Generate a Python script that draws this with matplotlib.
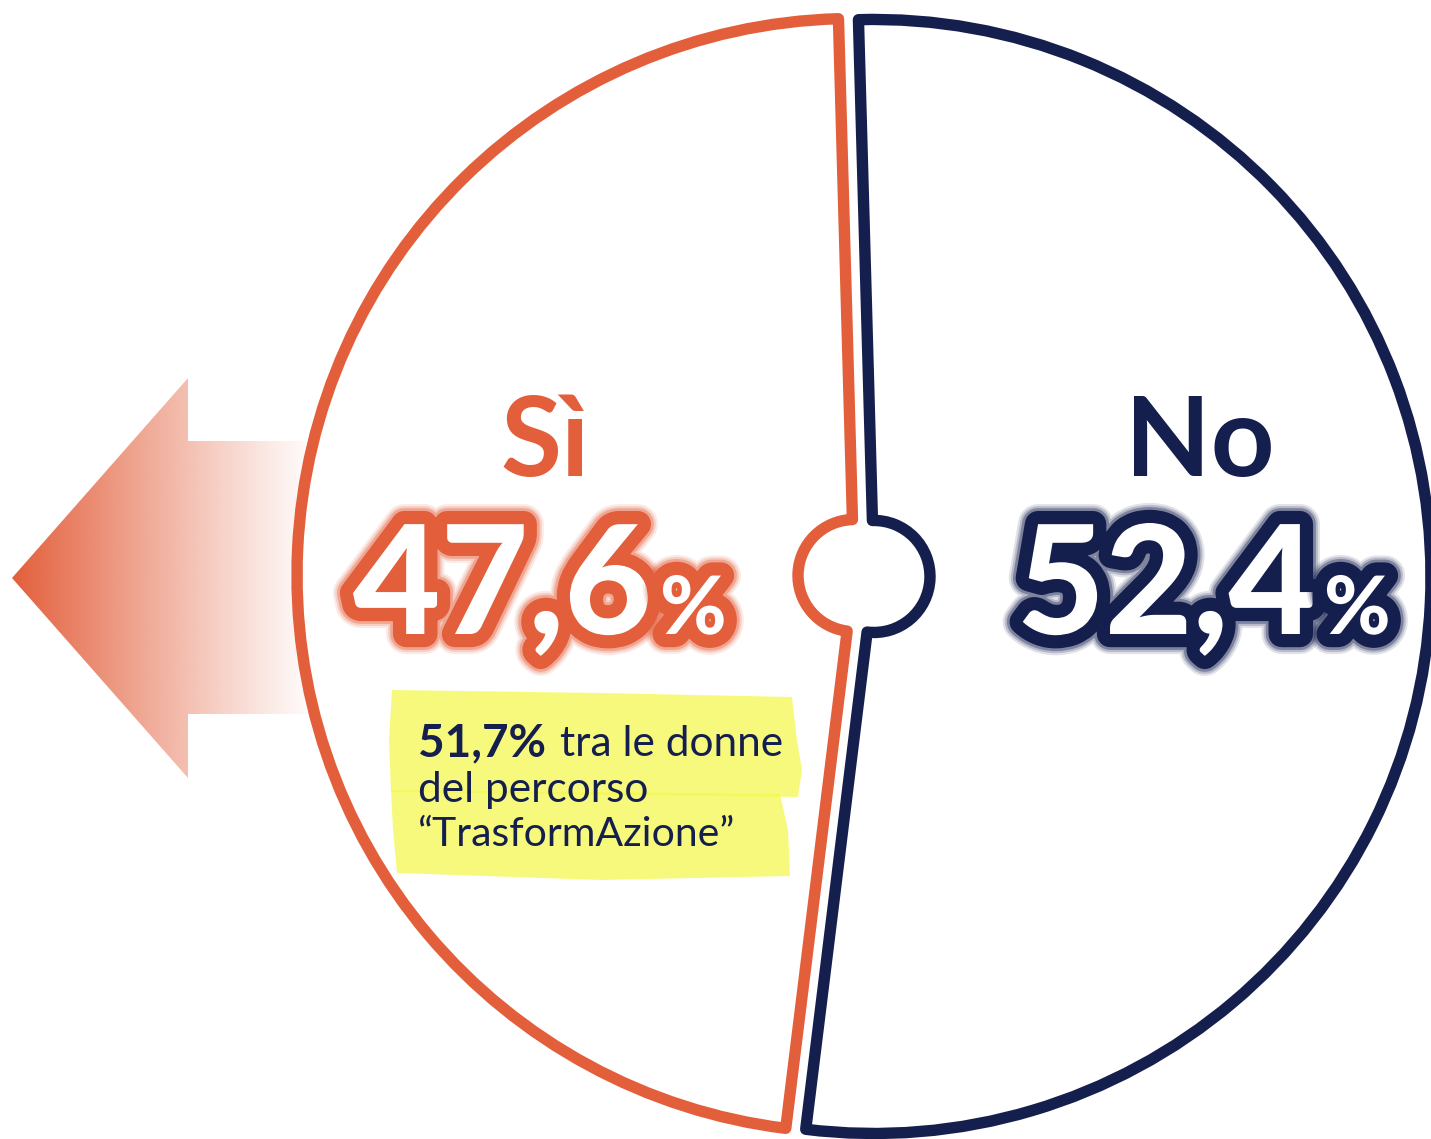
import matplotlib
matplotlib.use("Agg")
import matplotlib.pyplot as plt
import matplotlib.patheffects as pe
import numpy as np
from matplotlib.colors import to_rgb
from matplotlib.patches import Polygon

# data
labels = ["No", "Sì"]
values = [52.4, 47.6]
subgroup_value = 51.7
subgroup_text = ["tra le donne", "del percorso", "\u201cTrasformAzione\u201d"]

ORANGE = "#E35E3A"
NAVY = "#151F4E"
YELLOW = "#F5F850"

W, H = 1431, 1139
plt.rcParams["font.family"] = ["Lato", "DejaVu Sans"]

fig = plt.figure(figsize=(W / 100, H / 100), dpi=100)
ax = fig.add_axes([0, 0, 1, 1])
fig.patch.set_facecolor("white")


def up(y):
    """image row (from top) -> axis y (from bottom)"""
    return H - y


# gradient arrow pointing left, partly hidden behind the Sì slice
arrow = Polygon(
    [(12, up(578)), (188, up(378)), (188, up(441)), (310, up(441)),
     (310, up(714)), (188, up(714)), (188, up(778))],
    closed=True, facecolor="none", edgecolor="none",
)
ax.add_patch(arrow)
grad = np.zeros((2, 300, 4))
grad[..., :3] = to_rgb(ORANGE)
grad[..., 3] = np.linspace(1.0, 0.03, 300) ** 1.1
img = ax.imshow(grad, extent=(12, 310, up(778), up(378)), aspect="auto",
                interpolation="bilinear", zorder=0.5)
img.set_clip_path(arrow)

# the pie itself
cx, cy, radius = 864, up(576), 557
wedges, _ = ax.pie(
    values,
    startangle=91.6,
    counterclock=False,
    center=(cx, cy),
    radius=radius,
    explode=[10, 10],
    colors=["white", "white"],
    wedgeprops=dict(width=radius - 56, linewidth=8.2, joinstyle="round"),
)
wedges[0].set_edgecolor(NAVY)
wedges[1].set_edgecolor(ORANGE)
for w in wedges:
    w.set_zorder(2)

ax.set_xlim(0, W)
ax.set_ylim(0, H)
ax.set_aspect("equal")
ax.axis("off")


def fmt(v):
    return f"{v:.1f}".replace(".", ",")


def glow(color):
    # soft halo imitation: a few wide translucent strokes under a solid one
    return [pe.Stroke(linewidth=29, foreground=color, alpha=0.12),
            pe.Stroke(linewidth=26, foreground=color, alpha=0.2),
            pe.Stroke(linewidth=23, foreground=color, alpha=0.35),
            pe.Stroke(linewidth=19, foreground=color),
            pe.Normal()]


# slice labels
slice_style = {
    "No": dict(label_x=1200, num_right=1316, color=NAVY),
    "Sì": dict(label_x=545, num_right=652, color=ORANGE),
}
for name, val in zip(labels, values):
    st = slice_style[name]
    ax.text(st["label_x"], up(476), name, ha="center", va="baseline",
            fontsize=80, fontweight="bold", color=st["color"], zorder=5)
    ax.text(st["num_right"], up(634), fmt(val), ha="right", va="baseline",
            fontsize=109, fontweight="black", color="white",
            path_effects=glow(st["color"]), zorder=5)
    ax.text(st["num_right"] + 8, up(634), "%", ha="left", va="baseline",
            fontsize=58, fontweight="black", color="white",
            path_effects=glow(st["color"]), zorder=5)

# highlighter strokes behind the note (slightly ragged edges)
top_band = [(392, up(690)), (600, up(693)), (792, up(697)), (797, up(740)),
            (802, up(770)), (798, up(797)), (600, up(795)), (391, up(792)),
            (389, up(740))]
low_band = [(391, up(790)), (600, up(792)), (780, up(794)), (788, up(830)),
            (790, up(876)), (600, up(880)), (397, up(873)), (393, up(830))]
for band in (top_band, low_band):
    ax.add_patch(Polygon(band, closed=True, facecolor=YELLOW, alpha=0.75,
                         edgecolor="none", zorder=3))

bold = ax.text(418, up(756), f"{fmt(subgroup_value)}%", ha="left",
               va="baseline", fontsize=33, fontweight="bold", color=NAVY,
               zorder=6)
fig.canvas.draw()
bb = bold.get_window_extent()
x_after = ax.transData.inverted().transform((bb.x1, bb.y0))[0]
ax.text(x_after + 14, up(756), subgroup_text[0], ha="left", va="baseline",
        fontsize=30.5, color=NAVY, zorder=6)
ax.text(418, up(802), subgroup_text[1], ha="left", va="baseline",
        fontsize=30.5, color=NAVY, zorder=6)
ax.text(418, up(846), subgroup_text[2], ha="left", va="baseline",
        fontsize=29.5, color=NAVY, zorder=6)

fig.savefig("out.png", dpi=100, facecolor="white")
